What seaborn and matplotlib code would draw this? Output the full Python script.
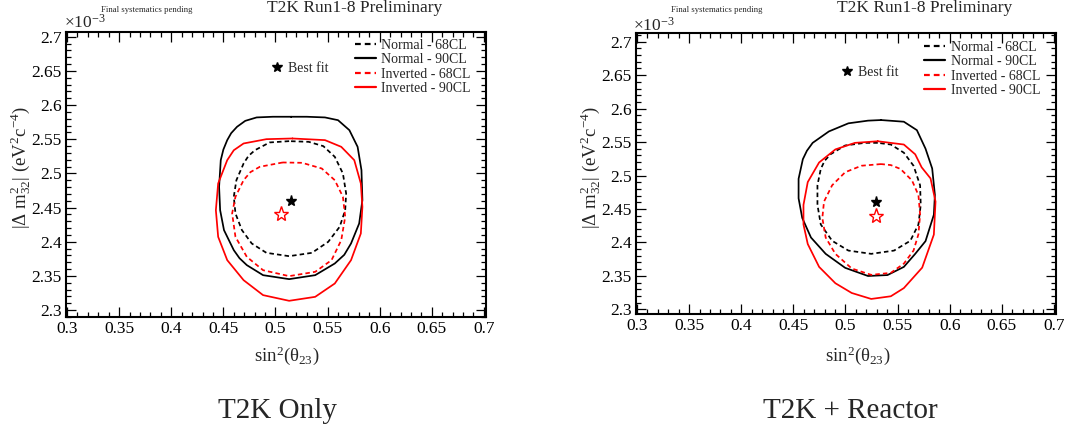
import numpy as np
import pandas as pd
import matplotlib
matplotlib.use("Agg")
import matplotlib.pyplot as plt
from matplotlib.lines import Line2D
from matplotlib.ticker import MultipleLocator, FuncFormatter
import seaborn as sns

# ---------------- data (sin^2 theta23, |dm2_32| in 1e-3 eV^2) ----------------
# Left panel: T2K only
t2k_n68_x = [0.5131, 0.4944, 0.4803, 0.4740, 0.4694, 0.4625, 0.4600, 0.4616, 0.4678, 0.4772, 0.4913, 0.5131,
             0.5350, 0.5506, 0.5616, 0.5669, 0.5678, 0.5647, 0.5569, 0.5459, 0.5319, 0.5131]
t2k_n68_y = [2.5473, 2.5454, 2.5341, 2.5255, 2.5146, 2.4902, 2.4659, 2.4415, 2.4171, 2.3976, 2.3839, 2.3790,
             2.3839, 2.4000, 2.4220, 2.4463, 2.4707, 2.5000, 2.5244, 2.5400, 2.5463, 2.5473]

t2k_n90_x = [0.5150, 0.4975, 0.4819, 0.4710, 0.4631, 0.4575, 0.4537, 0.4500, 0.4475, 0.4459, 0.4469, 0.4506,
             0.4600, 0.4655, 0.4725, 0.4881, 0.5131, 0.5381, 0.5569, 0.5660, 0.5725, 0.5803, 0.5834,
             0.5825, 0.5788, 0.5709, 0.5600, 0.5475, 0.5300, 0.5150]
t2k_n90_y = [2.5830, 2.5830, 2.5820, 2.5770, 2.5683, 2.5590, 2.5488, 2.5350, 2.5195, 2.4805, 2.4463, 2.4171,
             2.3878, 2.3760, 2.3659, 2.3512, 2.3454, 2.3512, 2.3683, 2.3810, 2.3976, 2.4268, 2.4610,
             2.5049, 2.5390, 2.5634, 2.5780, 2.5820, 2.5830, 2.5830]

t2k_i68_x = [0.5069, 0.4850, 0.4760, 0.4694, 0.4616, 0.4584, 0.4616, 0.4725, 0.4881, 0.5131, 0.5381,
             0.5538, 0.5631, 0.5669, 0.5647, 0.5569, 0.5444, 0.5256, 0.5069]
t2k_i68_y = [2.5161, 2.5098, 2.5020, 2.4902, 2.4659, 2.4415, 2.4073, 2.3780, 2.3585, 2.3498, 2.3561,
             2.3732, 2.4024, 2.4366, 2.4659, 2.4902, 2.5073, 2.5156, 2.5161]

t2k_i90_x = [0.5163, 0.4913, 0.4694, 0.4600, 0.4537, 0.4450, 0.4428, 0.4450, 0.4537, 0.4694, 0.4881, 0.5131,
             0.5381, 0.5569, 0.5725, 0.5819, 0.5834, 0.5819, 0.5756, 0.5631, 0.5475, 0.5163]
t2k_i90_y = [2.5512, 2.5502, 2.5439, 2.5340, 2.5195, 2.4854, 2.4463, 2.4073, 2.3732, 2.3439, 2.3220, 2.3137,
             2.3195, 2.3390, 2.3732, 2.4122, 2.4512, 2.4854, 2.5195, 2.5390, 2.5488, 2.5512]

t2k_best_x = [0.515, 0.505]
t2k_best_y = [2.460, 2.440]

# Right panel: T2K + reactor
rea_n68_x = [0.5310, 0.5185, 0.4997, 0.4856, 0.4800, 0.4763, 0.4731, 0.4731, 0.4763, 0.4872, 0.5028, 0.5247,
             0.5466, 0.5622, 0.5700, 0.5722, 0.5716, 0.5653, 0.5560, 0.5435, 0.5310]
rea_n68_y = [2.5488, 2.5488, 2.5449, 2.5317, 2.5220, 2.5098, 2.4854, 2.4561, 2.4268, 2.4024, 2.3878, 2.3829,
             2.3878, 2.4024, 2.4268, 2.4561, 2.4854, 2.5146, 2.5341, 2.5463, 2.5488]

rea_n90_x = [0.5341, 0.5216, 0.5028, 0.4841, 0.4685, 0.4630, 0.4591, 0.4550, 0.4550, 0.4585, 0.4669, 0.4810,
             0.4997, 0.5216, 0.5403, 0.5560, 0.5669, 0.5768, 0.5848, 0.5858, 0.5832, 0.5768,
             0.5685, 0.5560, 0.5341]
rea_n90_y = [2.5829, 2.5820, 2.5780, 2.5659, 2.5488, 2.5370, 2.5244, 2.4951, 2.4659, 2.4366, 2.4073, 2.3829,
             2.3620, 2.3498, 2.3512, 2.3634, 2.3829, 2.4019, 2.4414, 2.4710, 2.5105, 2.5401,
             2.5678, 2.5804, 2.5829]

rea_i68_x = [0.5341, 0.5153, 0.4997, 0.4872, 0.4794, 0.4778, 0.4810, 0.4903, 0.5060, 0.5247, 0.5435,
             0.5560, 0.5653, 0.5700, 0.5716, 0.5700, 0.5638, 0.5528, 0.5435, 0.5341]
rea_i68_y = [2.5171, 2.5146, 2.5049, 2.4854, 2.4610, 2.4366, 2.4073, 2.3829, 2.3610, 2.3515, 2.3545,
             2.3683, 2.3878, 2.4122, 2.4415, 2.4707, 2.4927, 2.5098, 2.5156, 2.5171]

rea_i90_x = [0.5310, 0.5091, 0.4903, 0.4747, 0.4638, 0.4597, 0.4597, 0.4638, 0.4747, 0.4903, 0.5060,
             0.5247, 0.5435, 0.5560, 0.5736, 0.5848, 0.5864, 0.5816, 0.5731, 0.5669, 0.5560, 0.5310]
rea_i90_y = [2.5512, 2.5488, 2.5390, 2.5195, 2.4902, 2.4561, 2.4268, 2.3976, 2.3634, 2.3390, 2.3244,
             2.3155, 2.3195, 2.3317, 2.3623, 2.4117, 2.4611, 2.4957, 2.5122, 2.5317, 2.5463, 2.5512]

rea_best_x = [0.5294, 0.5294]
rea_best_y = [2.460, 2.440]

legend_labels = ["Normal - 68CL", "Normal - 90CL", "Inverted - 68CL", "Inverted - 90CL"]
x_ticks = [0.3, 0.35, 0.4, 0.45, 0.5, 0.55, 0.6, 0.65, 0.7]
y_ticks = [2.3, 2.35, 2.4, 2.45, 2.5, 2.55, 2.6, 2.65, 2.7]
panel_titles = ["T2K Only", "T2K + Reactor"]

# ---------------- style ----------------
sns.set_theme(style="ticks")
plt.rcParams["font.family"] = ["Liberation Serif", "DejaVu Serif"]
plt.rcParams["mathtext.fontset"] = "custom"
plt.rcParams["mathtext.rm"] = "Liberation Serif"
plt.rcParams["mathtext.it"] = "Liberation Serif:italic"
plt.rcParams["mathtext.default"] = "regular"

W, H = 1092, 432
fig = plt.figure(figsize=(W / 100, H / 100), dpi=100)

def fx(px):
    return px / W

def fy(py):
    return 1 - py / H

DASH = (0, (2.6, 1.8))
LW = 1.25

panels = [
    dict(box=(66, 32, 486, 317),
         curves=[(t2k_n68_x, t2k_n68_y), (t2k_n90_x, t2k_n90_y), (t2k_i68_x, t2k_i68_y), (t2k_i90_x, t2k_i90_y)],
         best=(t2k_best_x, t2k_best_y), ylim=(2.29, 2.707),
         leg=(0.688, 0.976), bf=(0.489, 0.895), note_x=101, title_x=355, exp=(64, 28),
         ylab_x=21, xlab_x=287, big_x=278),
    dict(box=(636, 33, 1056, 314),
         curves=[(rea_n68_x, rea_n68_y), (rea_n90_x, rea_n90_y), (rea_i68_x, rea_i68_y), (rea_i90_x, rea_i90_y)],
         best=(rea_best_x, rea_best_y), ylim=(2.293, 2.713),
         leg=(0.686, 0.972), bf=(0.490, 0.884), note_x=671, title_x=925, exp=(633, 31),
         ylab_x=591, xlab_x=858, big_x=850),
]

styles = [("black", DASH), ("black", "-"), ("red", DASH), ("red", "-")]

for p, title in zip(panels, panel_titles):
    l, t, r, b = p["box"]
    ax = fig.add_axes([fx(l), fy(b), fx(r - l), (b - t) / H])
    handles = []
    for (cx, cy), (col, ls), lab in zip(p["curves"], styles, legend_labels):
        df = pd.DataFrame({"x": cx, "y": cy})
        sns.lineplot(data=df, x="x", y="y", sort=False, estimator=None, ax=ax,
                     color=col, linestyle=ls, linewidth=LW)
        handles.append(Line2D([], [], color=col, linestyle=ls, linewidth=1.6))
    bx, by = p["best"]
    ax.plot(bx[0], by[0], marker="*", color="black", markersize=8, linestyle="none")
    ax.plot(bx[1], by[1], marker="*", markerfacecolor="none", markeredgecolor="red",
            markeredgewidth=1.0, markersize=11, linestyle="none")

    ax.set_xlim(0.299, 0.702)
    ax.set_ylim(*p["ylim"])
    ax.set_xticks(x_ticks)
    ax.set_yticks(y_ticks)
    ax.xaxis.set_minor_locator(MultipleLocator(0.01))
    ax.yaxis.set_minor_locator(MultipleLocator(0.01))
    fmt = FuncFormatter(lambda v, pos: f"{v:g}")
    ax.xaxis.set_major_formatter(fmt)
    ax.yaxis.set_major_formatter(fmt)
    ax.tick_params(which="both", direction="in", top=True, right=True, colors="black",
                   labelsize=12.5, width=0.9)
    ax.tick_params(which="major", length=7.5, pad=3)
    ax.tick_params(which="minor", length=3.8)
    for s in ax.spines.values():
        s.set_linewidth(1.5)
        s.set_color("black")
    ax.set_xlabel("")
    ax.set_ylabel("")

    leg = ax.legend(handles, legend_labels, loc="upper left", bbox_to_anchor=p["leg"],
                    frameon=False, fontsize=10, handlelength=1.5, handletextpad=0.4,
                    labelspacing=0.1, borderpad=0, borderaxespad=0)
    ax.add_artist(leg)
    star = Line2D([], [], marker="*", color="black", markersize=7, linestyle="none")
    ax.legend([star], ["Best fit"], loc="upper left", bbox_to_anchor=p["bf"], frameon=False,
              fontsize=10, handlelength=0.8, handletextpad=0.4, borderpad=0, borderaxespad=0)

    fig.text(fx(p["note_x"]), fy(11.5), "Final systematics pending", fontsize=6.3,
             ha="left", va="baseline")
    fig.text(fx(p["title_x"]), fy(11.5), "T2K Run1-8 Preliminary", fontsize=12.5,
             ha="center", va="baseline")
    fig.text(fx(p["exp"][0]), fy(p["exp"][1]), r"$\times$10$^{-3}$", fontsize=12.5,
             ha="left", va="baseline")
    fig.text(fx(p["ylab_x"]), fy(168), r"|Δ $m^{2}_{32}$| (eV$^{2}$c$^{-4}$)", fontsize=13.5,
             rotation=90, ha="center", va="center")
    fig.text(fx(p["xlab_x"]), fy(356), r"sin$^{2}$(θ$_{23}$)", fontsize=13.5,
             ha="center", va="center")
    fig.text(fx(p["big_x"]), fy(411), title, fontsize=21, ha="center", va="center")

fig.savefig("out.png", dpi=100)
